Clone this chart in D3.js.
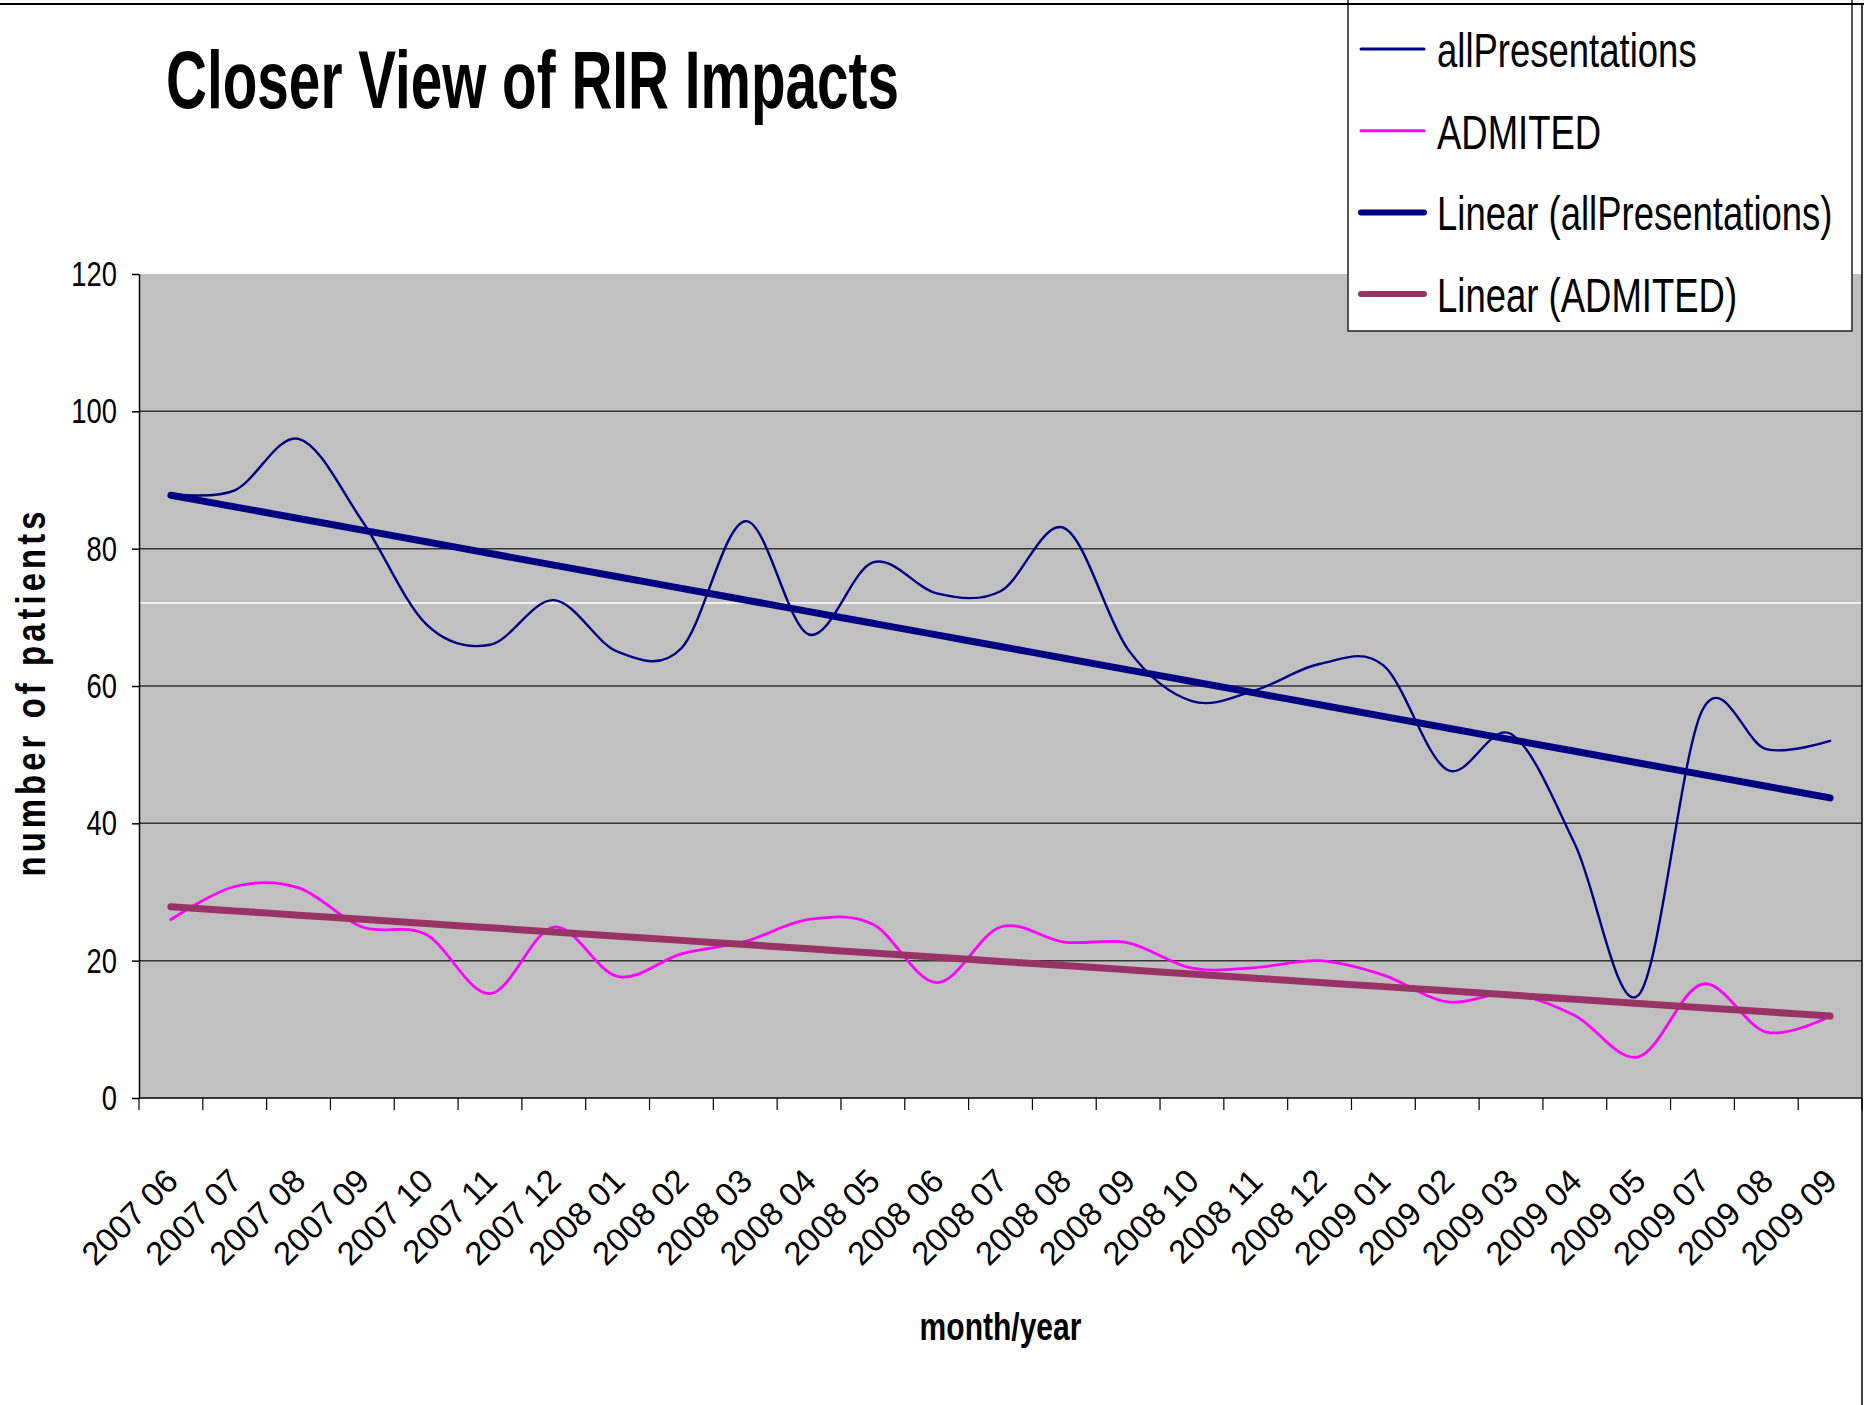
<!DOCTYPE html>
<html>
<head>
<meta charset="utf-8">
<script src="https://cdn.jsdelivr.net/npm/d3@7"></script>
<style>
  body { margin: 0; background: #fff; }
  svg { display: block; }
</style>
</head>
<body>
<script>
// data
const months = ["2007 06","2007 07","2007 08","2007 09","2007 10","2007 11","2007 12",
  "2008 01","2008 02","2008 03","2008 04","2008 05","2008 06","2008 07","2008 08","2008 09",
  "2008 10","2008 11","2008 12","2009 01","2009 02","2009 03","2009 04","2009 05",
  "2009 07","2009 08","2009 09"]
const allPresentations = [88, 88.5, 96, 84, 69, 66, 72.5, 65, 65.5, 84, 67.5, 78, 73.5, 73.8,
  83, 65.3, 57.8, 59.4, 63.2, 63, 47.8, 53, 37, 15, 56.5, 50.8, 52]
const admited = [26, 30.8, 30.6, 24.9, 23.8, 15.2, 24.9, 17.7, 21, 22.8, 26, 25.3, 16.8, 24.9,
  22.7, 22.6, 18.9, 19, 20, 17.9, 14, 15.2, 12, 6, 16.6, 9.6, 11.9]
const yTicks = [0, 20, 40, 60, 80, 100, 120]
const whiteLine = 72.1   // thin white line across the plot

const [width, height] = [1864, 1405]
const plot = { left: 139, right: 1862, top: 274, bottom: 1098 }
const font = "'Liberation Sans', Arial, sans-serif"
const colors = {
    navy: "#000080",
    magenta: "#ff00ff",
    plum: "#993366",
    plotBg: "#c0c0c0",
    grid: "#333"
}

// linear trend (least squares on category index, like Excel)
function trend(values) {
    const xs = d3.range(values.length)
    const mx = d3.mean(xs), my = d3.mean(values)
    const b = d3.sum(xs, i => (i - mx) * (values[i] - my)) / d3.sum(xs, i => (i - mx) ** 2)
    return xs.map(i => my + b * (i - mx))
}

// the original text is horizontally condensed: scale it around its anchor
function squeeze(sel, k) {
    sel.each(function () {
        const t = d3.select(this)
        const x0 = +t.attr("x") || 0, y0 = +t.attr("y") || 0
        t.attr("x", 0).attr("y", 0)
         .attr("transform", `translate(${x0},${y0}) scale(${k},1)`)
    })
}

const svg = d3.select("body").append("svg")
    .attr("width", width)
    .attr("height", height)
    .style("font-family", font)

const x = d3.scaleBand().domain(months).range([plot.left, plot.right])
const y = d3.scaleLinear().domain([0, 120]).range([plot.bottom, plot.top])
const cx = i => x(months[i]) + x.bandwidth() / 2

// plot area
svg.append("rect")
    .attr("x", plot.left).attr("y", plot.top)
    .attr("width", plot.right - plot.left).attr("height", plot.bottom - plot.top)
    .attr("fill", colors.plotBg)

svg.append("g").selectAll("line")
    .data(yTicks.filter(d => d > 0 && d < 120))
    .enter().append("line")
        .attr("x1", plot.left).attr("x2", plot.right)
        .attr("y1", d => y(d)).attr("y2", d => y(d))
        .attr("stroke", colors.grid)
        .attr("stroke-width", 1.5)

svg.append("line")
    .attr("x1", plot.left).attr("x2", width)
    .attr("y1", y(whiteLine)).attr("y2", y(whiteLine))
    .attr("stroke", "#fff").attr("stroke-width", 1.5)

// y axis
const yAxis = svg.append("g")
    .attr("transform", `translate(${plot.left},0)`)
    .call(d3.axisLeft(y).tickValues(yTicks).tickSize(7).tickPadding(15).tickSizeOuter(0))
yAxis.select(".domain").attr("stroke", "#000").attr("stroke-width", 1.5)
yAxis.selectAll(".tick line").attr("stroke", "#000").attr("stroke-width", 1.5)
yAxis.selectAll(".tick text")
    .attr("font-family", font).attr("font-size", 36).attr("fill", "#000")
    .call(squeeze, 0.76)

// x axis: ticks between categories
svg.append("line")
    .attr("x1", plot.left).attr("x2", plot.right)
    .attr("y1", plot.bottom).attr("y2", plot.bottom)
    .attr("stroke", "#000").attr("stroke-width", 1.5)

svg.append("g").selectAll("line")
    .data(months.map(m => x(m)).concat([plot.right]))
    .enter().append("line")
        .attr("x1", d => d).attr("x2", d => d)
        .attr("y1", plot.bottom).attr("y2", plot.bottom + 12)
        .attr("stroke", "#000").attr("stroke-width", 1.2)

svg.append("g").selectAll("text")
    .data(months)
    .enter().append("text")
        .text(d => d)
        .attr("text-anchor", "end")
        .attr("font-size", 33)
        .attr("transform", (d, i) => `translate(${cx(i) + 9},${plot.bottom + 85}) rotate(-45)`)

// series
const line = d3.line()
    .x((d, i) => cx(i))
    .y(d => y(d))
    .curve(d3.curveCardinal.tension(0))

const series = [
    { name: "allPresentations", values: allPresentations, color: colors.navy, width: 2.4 },
    { name: "ADMITED", values: admited, color: colors.magenta, width: 2.8 },
    { name: "Linear (allPresentations)", values: trend(allPresentations), color: colors.navy, width: 7 },
    { name: "Linear (ADMITED)", values: trend(admited), color: colors.plum, width: 7 }
]

svg.append("g").selectAll("path")
    .data(series)
    .enter().append("path")
        .attr("d", d => line(d.values))
        .attr("fill", "none")
        .attr("stroke", d => d.color)
        .attr("stroke-width", d => d.width)
        .attr("stroke-linecap", "round")
        .attr("stroke-linejoin", "round")

// titles
svg.append("text")
    .text("Closer View of RIR Impacts")
    .attr("x", 166).attr("y", 108)
    .attr("font-size", 81).attr("font-weight", "bold")
    .call(squeeze, 0.70)

svg.append("text")
    .text("month/year")
    .attr("x", (plot.left + plot.right) / 2).attr("y", 1340)
    .attr("text-anchor", "middle")
    .attr("font-size", 38).attr("font-weight", "bold")
    .call(squeeze, 0.79)

svg.append("text")
    .text("number of patients")
    .attr("text-anchor", "middle")
    .attr("font-size", 41).attr("font-weight", "bold")
    .attr("transform", "translate(45,694) rotate(-90) scale(0.8,1)")
    .attr("textLength", 365 / 0.8)
    .attr("lengthAdjust", "spacing")

// legend
const legend = svg.append("g")
legend.append("rect")
    .attr("x", 1348).attr("y", -5)
    .attr("width", 504).attr("height", 336)
    .attr("fill", "#fff")
    .attr("stroke", "#222").attr("stroke-width", 1.5)

const items = legend.selectAll("g.item")
    .data(series)
    .enter().append("g")
        .attr("class", "item")
        .attr("transform", (d, i) => `translate(0,${49 + i * 81.7})`)
items.append("line")
    .attr("x1", 1361).attr("x2", 1424)
    .attr("stroke", d => d.color)
    .attr("stroke-width", d => d.width > 4 ? 6 : 3)
    .attr("stroke-linecap", "round")
items.append("text")
    .text(d => d.name)
    .attr("x", 1437).attr("y", 18)
    .attr("font-size", 49)
    .call(squeeze, 0.745)

// chart border (top and right only visible)
svg.append("line")
    .attr("x1", 0).attr("x2", width).attr("y1", 4).attr("y2", 4)
    .attr("stroke", "#000").attr("stroke-width", 2)
svg.append("line")
    .attr("x1", 1862).attr("x2", 1862).attr("y1", 4).attr("y2", height)
    .attr("stroke", "#000").attr("stroke-width", 1.5)
</script>
</body>
</html>
